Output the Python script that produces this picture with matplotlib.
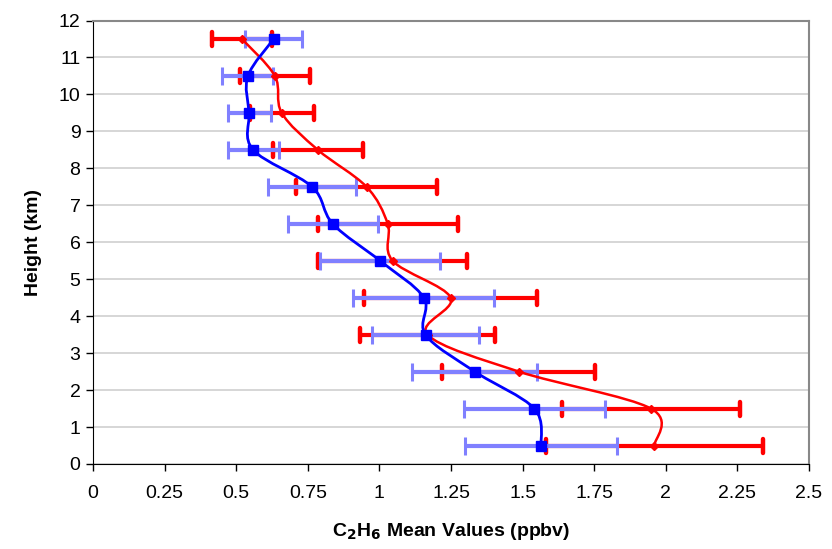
import numpy as np
import matplotlib
matplotlib.use("Agg")
import matplotlib.pyplot as plt
from matplotlib.path import Path
from matplotlib.patches import PathPatch
from matplotlib.markers import MarkerStyle

plt.rcParams['font.family'] = ['Liberation Sans', 'DejaVu Sans']

# heights (km) of each layer
height = [0.5, 1.5, 2.5, 3.5, 4.5, 5.5, 6.5, 7.5, 8.5, 9.5, 10.5, 11.5]

# blue series: mean and error
blue_mean = [1.565, 1.541, 1.333, 1.161, 1.155, 1.002, 0.837, 0.765, 0.559, 0.545, 0.541, 0.631]
blue_err = [0.265, 0.247, 0.218, 0.188, 0.246, 0.208, 0.157, 0.153, 0.089, 0.075, 0.089, 0.100]

# red series: mean and error
red_mean = [1.960, 1.948, 1.487, 1.168, 1.249, 1.046, 1.029, 0.955, 0.785, 0.659, 0.635, 0.520]
red_err = [0.380, 0.311, 0.267, 0.235, 0.303, 0.260, 0.244, 0.245, 0.156, 0.112, 0.122, 0.105]

xticks = [0, 0.25, 0.5, 0.75, 1, 1.25, 1.5, 1.75, 2, 2.25, 2.5]
xticklabels = ['0', '0.25', '0.5', '0.75', '1', '1.25', '1.5', '1.75', '2', '2.25', '2.5']


def smooth_path(xs, ys, t=1/6.):
    # Catmull-Rom style bezier through the points (like Excel smoothed lines)
    pts = np.column_stack([xs, ys])
    verts = [pts[0]]
    codes = [Path.MOVETO]
    n = len(pts)
    for i in range(n - 1):
        p0 = pts[i - 1] if i > 0 else pts[i]
        p1 = pts[i]
        p2 = pts[i + 1]
        p3 = pts[i + 2] if i + 2 < n else pts[i + 1]
        c1 = p1 + (p2 - p0) * t
        c2 = p2 - (p3 - p1) * t
        verts += [c1, c2, p2]
        codes += [Path.CURVE4] * 3
    return Path(verts, codes)


fig = plt.figure(figsize=(8.32, 5.49), dpi=100)
ax = fig.add_axes([93/832, 1 - 464/549, (809 - 93)/832, (464 - 20.5)/549])

# error bars
red_eb = ax.errorbar(red_mean, height, xerr=red_err, fmt='none', ecolor='#ff0000',
                     elinewidth=3, capsize=5, capthick=3.2, zorder=2)
for cl in red_eb[1]:
    cl.set_marker(MarkerStyle('|', capstyle='round'))
ax.errorbar(blue_mean, height, xerr=blue_err, fmt='none', ecolor='#8080ff',
            elinewidth=3, capsize=6.5, capthick=2.2, zorder=3)

# smoothed lines
ax.add_patch(PathPatch(smooth_path(red_mean, height), fill=False, edgecolor='#ff0000',
                       lw=1.8, zorder=4))
ax.plot(red_mean, height, linestyle='none', marker='D', ms=4, color='#ff0000', zorder=4)
ax.add_patch(PathPatch(smooth_path(blue_mean, height), fill=False, edgecolor='#0000ff',
                       lw=2, zorder=5))
ax.plot(blue_mean, height, linestyle='none', marker='s', ms=6.5, color='#0000ff', zorder=5)

ax.set_xlim(0, 2.5)
ax.set_ylim(0, 12)
ax.set_xticks(xticks)
ax.set_xticklabels(xticklabels)
ax.set_yticks(range(0, 13))
ax.tick_params(axis='both', labelsize=14, length=5, width=1, direction='out', color='black')
ax.tick_params(axis='x', pad=10)
ax.tick_params(axis='y', pad=4)

ax.yaxis.grid(True, color='#d0d0d0', lw=1.2)
ax.set_axisbelow(True)
ax.spines['left'].set_color('black')
ax.spines['bottom'].set_color('black')
ax.spines['top'].set_color('#888888')
ax.spines['right'].set_color('#888888')
ax.spines['top'].set_linewidth(1.5)
ax.spines['right'].set_linewidth(1.5)

ax.set_xlabel('C$_\\mathbf{2}$H$_\\mathbf{6}$ Mean Values (ppbv)', fontsize=14,
              fontweight='bold', labelpad=14)
ax.set_ylabel('Height (km)', fontsize=14, fontweight='bold', labelpad=12)

fig.savefig('out.png', dpi=100)
